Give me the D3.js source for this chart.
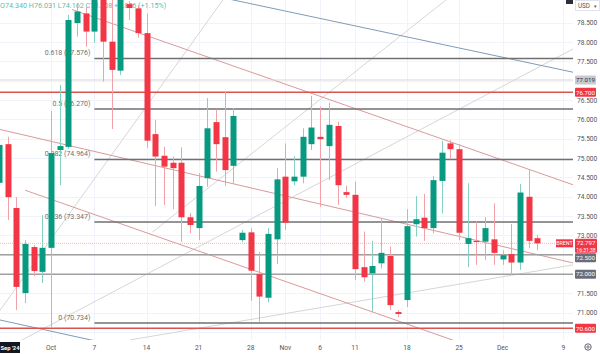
<!DOCTYPE html>
<html>
<head>
<meta charset="utf-8">
<script src="https://cdn.jsdelivr.net/npm/d3@7"></script>
<style>
body{margin:0;background:#fff;}
svg{display:block;font-family:Roboto,"Liberation Sans",sans-serif;}
</style>
</head>
<body>
<svg id="chart"></svg>
<script>
// daily bars of the BRENT CFD (Sunday sessions included)
var dates = ["Sep 24","Sep 25","Sep 26","Sep 27","Sep 29","Sep 30",
  "Oct 1","Oct 2","Oct 3","Oct 4","Oct 6","Oct 7","Oct 8","Oct 9","Oct 10","Oct 11",
  "Oct 13","Oct 14","Oct 15","Oct 16","Oct 17","Oct 18","Oct 20","Oct 21","Oct 22","Oct 23","Oct 24","Oct 25",
  "Oct 27","Oct 28","Oct 29","Oct 30","Oct 31","Nov 1","Nov 3","Nov 4","Nov 5","Nov 6","Nov 7","Nov 8",
  "Nov 10","Nov 11","Nov 12","Nov 13","Nov 14","Nov 15","Nov 17","Nov 18","Nov 19","Nov 20","Nov 21","Nov 22",
  "Nov 24","Nov 25","Nov 26","Nov 27","Nov 28","Nov 29","Dec 1","Dec 2","Dec 3","Dec 4","Dec 5"];
var open  = [74.36,75.36,73.71,71.51,72.70,72.06,72.68,75.21,75.29,78.49,78.74,78.27,80.50,78.01,77.26,78.98,
  78.87,78.23,75.62,75.06,74.88,74.88,73.47,73.19,74.48,75.93,75.54,74.80,72.88,73.08,72.00,71.39,72.90,74.52,
  74.40,74.52,75.36,75.55,75.31,75.83,74.12,74.05,72.18,72.02,72.28,72.47,71.02,71.33,73.29,73.46,73.19,74.41,
  75.38,75.23,72.78,72.86,72.84,72.90,72.38,72.52,72.30,74.00,72.93];
var high  = [75.47,75.55,73.99,72.88,72.75,73.53,76.22,76.89,78.70,79.01,78.91,80.90,80.70,79.20,79.60,79.06,
  78.96,78.74,75.99,75.29,75.04,75.28,73.58,74.61,76.55,76.26,76.72,76.29,73.14,73.19,72.58,73.19,74.74,75.38,
  75.05,75.77,76.61,76.33,76.43,75.94,74.29,74.39,73.10,72.86,73.42,72.71,71.07,73.68,74.02,74.07,74.54,75.45,
  75.47,75.36,74.35,73.36,73.47,73.83,72.61,73.30,74.33,74.69,73.01];
var low   = [74.18,73.40,71.07,71.25,71.95,71.77,70.63,74.30,75.24,78.14,77.88,77.98,76.98,75.75,77.15,78.57,
  78.11,75.26,73.76,73.79,73.68,72.84,73.06,72.88,74.26,74.65,74.28,74.35,72.83,71.31,70.77,71.27,72.26,73.14,
  74.30,74.35,75.21,73.74,74.43,73.79,73.97,71.85,71.80,71.03,72.15,71.07,70.89,71.15,72.97,72.86,73.06,73.57,
  74.97,72.88,72.18,72.24,72.37,72.24,72.24,71.98,72.11,72.67,72.62];
var close = [75.34,73.99,71.67,72.78,72.08,72.68,75.13,75.31,78.57,78.79,78.27,80.60,78.01,77.28,79.25,78.88,
  78.23,75.45,75.04,74.78,74.74,73.47,73.27,74.28,75.77,75.36,74.69,76.09,73.07,72.09,71.42,73.04,74.45,73.33,
  74.52,75.55,75.79,75.49,75.86,74.30,74.05,72.13,71.92,72.21,72.55,71.20,70.97,73.24,73.42,73.19,74.43,75.14,
  75.23,73.07,72.93,72.83,73.19,72.55,72.49,72.30,74.11,72.86,72.797];

// time axis labels and the bar they sit on
var timeLabels = ["Oct","7","14","21","28","Nov","6","11","18","25","Dec","9"];
var timeIndex  = [6,11,17,23,29,33,37,41,47,53,58,65];
var priceTicks = [70.5,71,71.5,72,72.5,73,73.5,74,74.5,75,75.5,76,76.5,77,77.5,78,78.5];

// fibonacci retracement
var fibRatio = ["0","0.236","0.382","0.5","0.618"];
var fibPrice = [70.734,73.347,74.964,76.270,77.576];
var fibStart = 11;

// horizontal levels
var levelPrice = [77.019,76.700,72.500,72.000,70.600];
var levelKind  = ["light","red","gray","gray","red"];
var lastPrice = 72.797;

// trend lines: [index, price] -> [index, price]
var pinkLines = [
  [[8.42,78.84],[66.12,74.31]],
  [[0.13,75.74],[66.12,72.29]],
  [[3.01,74.17],[53.1,70.23]]
];
var blueLines = [
  [[23.16,79.27],[66.12,77.22]],
  [[-1.0,70.87],[12.8,70.19]]
];
var greyLines = [
  [[2.43,70.27],[66.12,77.82]],
  [[15.1,70.30],[66.12,72.24]],
  [[-2.0,70.40],[25.8,79.09]],
  [[17.7,73.09],[51.5,79.09]]
];

var legendText = "O74.340 H76.031 L74.162 C75.308 +0.856 (+1.15%)";

var width = 600, height = 354, plotW = 573, plotH = 340;
var upColor = "#089981", downColor = "#f23645";

var svg = d3.select("#chart").attr("width", width).attr("height", height);

var x = d3.scaleLinear().domain([11, 65]).range([94.4, 563.3]);
var y = d3.scaleLinear().domain([78.5, 70.6]).range([22.7, 328.3]);

svg.append("defs").append("clipPath").attr("id", "plotClip")
  .append("rect").attr("x", 0).attr("y", 0).attr("width", plotW).attr("height", plotH);

var plot = svg.append("g").attr("clip-path", "url(#plotClip)");

// grid
plot.append("g").selectAll("line").data(timeIndex).enter().append("line")
  .attr("x1", d => Math.round(x(d)) + 0.5).attr("x2", d => Math.round(x(d)) + 0.5)
  .attr("y1", 0).attr("y2", plotH).attr("stroke", "#f0f3fa");
plot.append("g").selectAll("line").data(priceTicks).enter().append("line")
  .attr("x1", 0).attr("x2", plotW)
  .attr("y1", d => Math.round(y(d)) + 0.5).attr("y2", d => Math.round(y(d)) + 0.5)
  .attr("stroke", "#f0f3fa");

// legend (sits under the bars, as in the reference)
plot.append("text").attr("x", 0).attr("y", 8).attr("font-size", 7.2)
  .attr("fill", upColor).attr("fill-opacity", 0.7).text(legendText);

// trend lines
function drawLines(list, color, w){
  plot.append("g").selectAll("line").data(list).enter().append("line")
    .attr("x1", d => x(d[0][0])).attr("y1", d => y(d[0][1]))
    .attr("x2", d => x(d[1][0])).attr("y2", d => y(d[1][1]))
    .attr("stroke", color).attr("stroke-width", w);
}
drawLines(greyLines, "#d6d6d6", 1);
drawLines(blueLines, "#7f9bb8", 1);
drawLines(pinkLines, "#d99a9a", 1);

// horizontal levels
var levelColor = {light: "#d9d9d9", red: "#d9534f", gray: "#a0a0a0"};
plot.append("g").selectAll("line").data(levelPrice).enter().append("line")
  .attr("x1", 0).attr("x2", plotW)
  .attr("y1", d => y(d)).attr("y2", d => y(d))
  .attr("stroke", (d, i) => levelColor[levelKind[i]])
  .attr("stroke-width", (d, i) => levelKind[i] == "light" ? 1 : 1.5);

// fib
var fib = plot.append("g");
fib.selectAll("line").data(fibPrice).enter().append("line")
  .attr("x1", x(fibStart)).attr("x2", plotW)
  .attr("y1", d => y(d)).attr("y2", d => y(d))
  .attr("stroke", "#707070").attr("stroke-width", 1.5);
fib.selectAll("text").data(fibPrice).enter().append("text")
  .attr("x", x(fibStart) - 4).attr("y", d => y(d) - 3)
  .attr("text-anchor", "end").attr("font-size", 7).attr("fill", "#707070")
  .text((d, i) => fibRatio[i] + " (" + d.toFixed(3) + ")");

// last price line
plot.append("line").attr("x1", 0).attr("x2", plotW)
  .attr("y1", y(lastPrice)).attr("y2", y(lastPrice))
  .attr("stroke", "#f5b3b9").attr("stroke-dasharray", "1,1");

// candles
var bars = dates.map((d, i) => ({i: i, o: open[i], h: high[i], l: low[i], c: close[i]}));
var candle = plot.append("g").selectAll("g").data(bars).enter().append("g");
candle.append("line")
  .attr("x1", d => Math.round(x(d.i)) + 0.5).attr("x2", d => Math.round(x(d.i)) + 0.5)
  .attr("y1", d => y(d.h)).attr("y2", d => y(d.l))
  .attr("stroke", d => d.c >= d.o ? "#86cfc3" : "#f3a0a8");
candle.append("rect")
  .attr("x", d => Math.round(x(d.i)) - 2.5).attr("width", 6)
  .attr("y", d => y(Math.max(d.o, d.c)))
  .attr("height", d => Math.max(1, Math.abs(y(d.o) - y(d.c))))
  .attr("fill", d => d.c >= d.o ? upColor : downColor);

// price axis: skip ticks hidden by a level tag
var tagged = levelPrice.concat([lastPrice]);
var shownTicks = priceTicks.filter(t => tagged.every(p => Math.abs(y(p) - y(t)) > 7));
svg.append("g").selectAll("text").data(shownTicks).enter().append("text")
  .attr("x", 577).attr("y", d => y(d) + 2.5).attr("font-size", 6.6).attr("fill", "#50535e")
  .text(d => d.toFixed(3));

// last price box (two lines: price and bar countdown)
var lpTop = y(lastPrice) - 4.5, lpBottom = lpTop + 14;
var lp = svg.append("g");
lp.append("rect").attr("x", 556).attr("y", y(lastPrice) - 4).attr("width", 17).attr("height", 8)
  .attr("fill", "#f23645");
lp.append("text").attr("x", 564.5).attr("y", y(lastPrice) + 2).attr("text-anchor", "middle")
  .attr("font-size", 5.3).attr("fill", "#fff").text("BRENT");
lp.append("rect").attr("x", 575).attr("y", lpTop).attr("width", 22).attr("height", 14)
  .attr("rx", 1).attr("fill", "#f23645");
lp.append("text").attr("x", 586).attr("y", y(lastPrice) + 2.1).attr("text-anchor", "middle")
  .attr("font-size", 6.1).attr("fill", "#fff").text(lastPrice.toFixed(3));
lp.append("text").attr("x", 586).attr("y", y(lastPrice) + 8.2).attr("text-anchor", "middle")
  .attr("font-size", 5).attr("fill", "#fff").text("16:31:38");

// level tags, nudged off the last price box like the price scale does
function tag(p, label, bg, fg){
  var cy = y(p);
  if (cy - 4.5 < lpBottom + 0.5 && cy + 4.5 > lpTop) cy = lpBottom + 5;
  var g = svg.append("g");
  g.append("rect").attr("x", 575).attr("y", cy - 4.5).attr("width", 21).attr("height", 9)
    .attr("rx", 1).attr("fill", bg);
  g.append("text").attr("x", 585.5).attr("y", cy + 2.3).attr("text-anchor", "middle")
    .attr("font-size", 6.2).attr("fill", fg).text(label);
}
levelPrice.forEach((p, i) => {
  var k = levelKind[i];
  if (k == "light") tag(p, p.toFixed(3), "#c8cad0", "#2a2e39");
  else if (k == "red") tag(p, p.toFixed(3), "#f23645", "#fff");
  else tag(p, p.toFixed(3), "#6a6d78", "#fff");
});

// USD selector
svg.append("rect").attr("x", 575.5).attr("y", 0.5).attr("width", 24).attr("height", 10)
  .attr("fill", "#fff").attr("stroke", "#e0e3eb");
svg.append("text").attr("x", 578).attr("y", 7.5).attr("font-size", 6.3).attr("fill", "#50535e").text("USD");
svg.append("text").attr("x", 593.5).attr("y", 7.5).attr("font-size", 5).attr("fill", "#50535e").text("▾");
svg.append("rect").attr("x", 566).attr("y", 0).attr("width", 7).attr("height", 4).attr("fill", "#2a2e39");

// time axis
svg.append("g").selectAll("text").data(timeLabels).enter().append("text")
  .attr("x", (d, i) => x(timeIndex[i])).attr("y", 350).attr("text-anchor", "middle")
  .attr("font-size", 6.6).attr("fill", "#50535e").text(d => d);
svg.append("rect").attr("x", 0).attr("y", 342).attr("width", 20).attr("height", 11).attr("fill", "#131722");
svg.append("text").attr("x", 10).attr("y", 350).attr("text-anchor", "middle")
  .attr("font-size", 5.8).attr("font-weight", "bold").attr("fill", "#fff").text("Sep '24");

// settings icon
svg.append("circle").attr("cx", 588).attr("cy", 347).attr("r", 3.2)
  .attr("fill", "none").attr("stroke", "#50535e").attr("stroke-width", 0.9);
svg.append("circle").attr("cx", 588).attr("cy", 347).attr("r", 1.2)
  .attr("fill", "none").attr("stroke", "#50535e").attr("stroke-width", 0.8);
</script>
</body>
</html>
